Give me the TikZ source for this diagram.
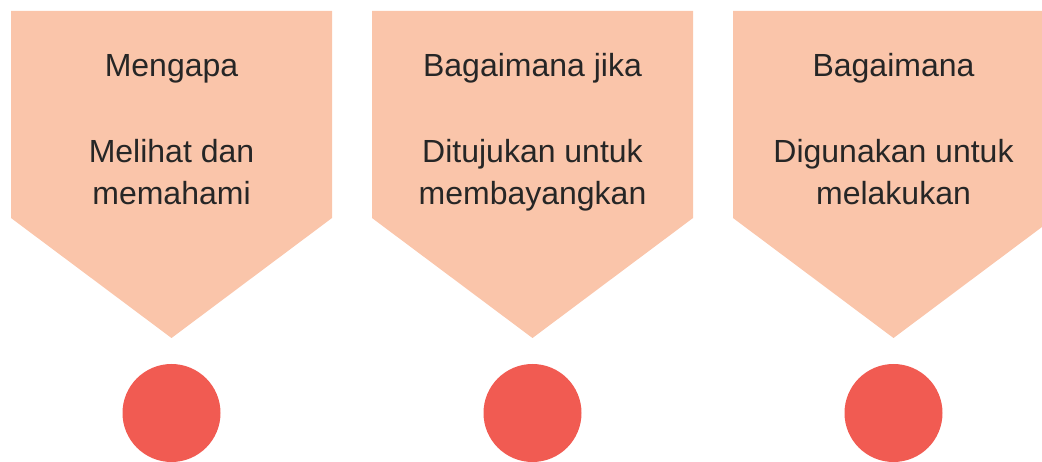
\documentclass[tikz,border=0pt]{standalone}
\usepackage{fontspec}
\setmainfont{Liberation Sans}
\definecolor{peach}{HTML}{FAC5AA}
\definecolor{coral}{HTML}{F15B52}
\definecolor{ink}{HTML}{262626}
\tikzset{
  arrowbox/.style={fill=peach},
  dot/.style={circle,fill=coral,minimum size=98pt,inner sep=0pt},
  label/.style={text=ink,font=\fontsize{32}{42}\selectfont,align=center,inner sep=0pt}
}

\begin{document}
\begin{tikzpicture}[x=1pt,y=-1pt]
\useasboundingbox (0,0) rectangle (1042,462);
\foreach \i/\cx/\head/\body in {%
    1/171.5/Mengapa/{Melihat dan\\memahami},
    2/532.5/Bagaimana jika/{Ditujukan untuk\\membayangkan},
    3/893.5/Bagaimana/{Digunakan untuk\\melakukan}}{
  \coordinate (tip\i) at (\cx,338);
  \fill[arrowbox] (\cx-160.5,11) -- (\cx+160.5,11) -- (\cx+160.5,218)
     -- (tip\i) -- (\cx-160.5,218) -- cycle;
  \node[label,anchor=base] (head\i) at (\cx,77) {\head};
  % base of a two-line node sits on its last line
  \node[label,anchor=base] (body\i) at (\cx,205) {\body};
  \node[dot] (dot\i) at (\cx,413) {};
}
\end{tikzpicture}
\end{document}
